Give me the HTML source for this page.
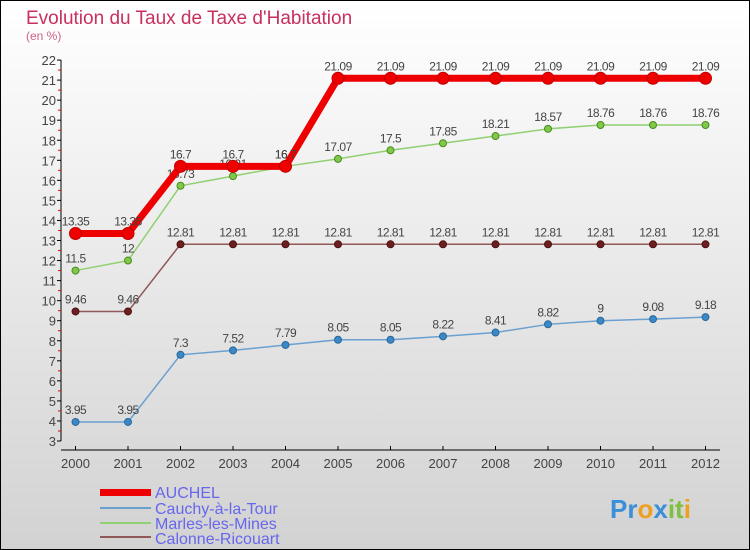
<!DOCTYPE html>
<html><head><meta charset="utf-8"><style>
body{margin:0}
#c{width:750px;height:550px;position:relative;overflow:hidden}
</style></head><body>
<div id="c">
<svg id="s" width="750" height="550" xmlns="http://www.w3.org/2000/svg" font-family="Liberation Sans, sans-serif">
<defs><linearGradient id="bg" x1="0" y1="0" x2="0" y2="1"><stop offset="0" stop-color="#ffffff"/><stop offset="1" stop-color="#d2d2d2"/></linearGradient></defs>
<rect x="0.5" y="0.5" width="749" height="549" fill="url(#bg)" stroke="#000"/>
<text x="26" y="24" font-size="19" fill="#c8305e">Evolution du Taux de Taxe d'Habitation</text>
<text x="26" y="40" font-size="12" fill="#d0608a">(en %)</text>
<g id="axes"></g><g id="series"></g>
<g>
<rect x="100" y="489" width="51" height="7" fill="#ee0000"/>
<text x="155" y="498" font-size="16" fill="#6666ee">AUCHEL</text>
<line x1="100" y1="508" x2="151" y2="508" stroke="#6aa0d0" stroke-width="2"/>
<text x="155" y="514" font-size="16" fill="#6666ee">Cauchy-à-la-Tour</text>
<line x1="100" y1="523" x2="151" y2="523" stroke="#90d070" stroke-width="2"/>
<text x="155" y="529" font-size="16" fill="#6666ee">Marles-les-Mines</text>
<line x1="100" y1="537" x2="151" y2="537" stroke="#905858" stroke-width="2"/>
<text x="155" y="544" font-size="16" fill="#6666ee">Calonne-Ricouart</text>
</g>
<text x="610" y="518" font-size="26" font-weight="bold"><tspan fill="#3a8fd8">Pr</tspan><tspan fill="#f0a020">o</tspan><tspan fill="#3a8fd8">x</tspan><tspan fill="#80c040">it</tspan><tspan fill="#f0a020">i</tspan></text>
</svg></div>
<script>
const years=[2000,2001,2002,2003,2004,2005,2006,2007,2008,2009,2010,2011,2012];
const auchel=[13.35,13.35,16.7,16.7,16.7,21.09,21.09,21.09,21.09,21.09,21.09,21.09,21.09];
const cauchy=[3.95,3.95,7.3,7.52,7.79,8.05,8.05,8.22,8.41,8.82,9,9.08,9.18];
const marles=[11.5,12,15.73,16.21,16.7,17.07,17.5,17.85,18.21,18.57,18.76,18.76,18.76];
const calonne=[9.46,9.46,12.81,12.81,12.81,12.81,12.81,12.81,12.81,12.81,12.81,12.81,12.81];
const yTicks=[3,4,5,6,7,8,9,10,11,12,13,14,15,16,17,18,19,20,21,22];
const NS='http://www.w3.org/2000/svg';
const X=i=>75.5+i*52.5, Y=v=>441-(v-3)*20.05;
function mk(t,a,p){const e=document.createElementNS(NS,t);for(const k in a)e.setAttribute(k,a[k]);p.appendChild(e);return e;}
const ax=document.getElementById('axes');
const ya=mk('line',{x1:61,y1:Y(22),x2:61,y2:Y(3),stroke:'#000'},ax);


const xa=mk('line',{x1:61,y1:450,x2:720,y2:450,stroke:'#000'},ax);


yTicks.forEach(v=>{
 mk('line',{x1:57,y1:Y(v),x2:61,y2:Y(v),stroke:'#000'},ax);
 if(v<22)mk('line',{x1:58,y1:Y(v+0.5),x2:61,y2:Y(v+0.5),stroke:'#e00'},ax);
 const t=mk('text',{x:56,y:Y(v)+5,'font-size':13,'text-anchor':'end',fill:'#444'},ax);t.textContent=v;
 
 
});
years.forEach((y,i)=>{
 mk('line',{x1:X(i),y1:446,x2:X(i),y2:450,stroke:'#000'},ax);
 const t=mk('text',{x:X(i),y:468,'font-size':13,'text-anchor':'middle',fill:'#444'},ax);t.textContent=y;
 
 
});
const sg=document.getElementById('series');
function series(name,data,col,w,r,dot,dotStroke){
 const pts=data.map((v,i)=>X(i)+','+Y(v)).join(' ');
 const l=mk('polyline',{points:pts,fill:'none',stroke:col,'stroke-width':w},sg);
 
 
 data.forEach((v,i)=>{
  const c=mk('circle',{cx:X(i),cy:Y(v),r:r,fill:dot,stroke:dotStroke,'stroke-width':1},sg);
  
  
  const t=mk('text',{x:X(i),y:Y(v)-8,'font-size':12,'text-anchor':'middle',fill:'#444','letter-spacing':'-0.5'},sg);
  t.textContent=v;
  
  
 });
}
series('cauchy',cauchy,'#6aa0d0',1.5,3.5,'#3a88c8','#2a6898');
series('calonne',calonne,'#905858',1.5,3.5,'#6a2020','#501010');
series('marles',marles,'#90d070',1.5,3.5,'#80c848','#4a8a20');
series('auchel',auchel,'#ee0000',7,6,'#ee0000','#c00000');
</script>
</body></html>
